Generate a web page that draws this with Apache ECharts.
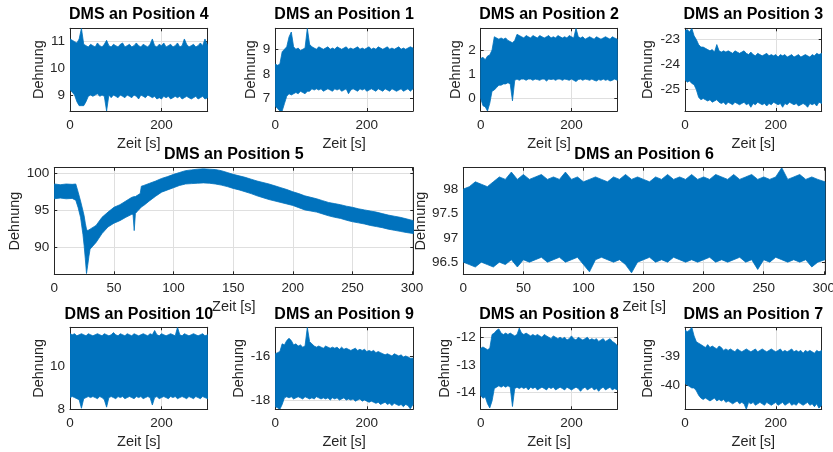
<!DOCTYPE html>
<html><head><meta charset="utf-8">
<script src="https://cdn.jsdelivr.net/npm/echarts@6/dist/echarts.min.js"></script>
<style>html,body{margin:0;padding:0;background:#fff}#c{width:833px;height:452px}</style>
</head><body><div id="c"></div>
<script>
// ---------- data (upper / lower envelope of each noisy signal) ----------
const T = [0,5,10,15,20,25,30,35,40,45,50,55,60,65,70,75,80,85,90,95,100,105,110,115,120,125,130,135,140,145,
  150,155,160,165,170,175,180,185,190,195,200,205,210,215,220,225,230,235,240,245,250,255,260,265,270,275,280,285,290,295,301];
const T5 = [0,5,10,15,18,20,22,24,25,26,27,28,29,30,35,40,45,50,55,60,65,66,67,68,70,72,73,75,
  80,85,90,95,100,105,110,115,120,125,130,135,140,145,150,155,160,165,170,175,180,185,190,195,200,205,210,215,220,225,
  230,235,240,245,250,255,260,265,270,275,280,285,290,295,301];

const hi4 = [11.1,11.05,11.0,10.95,11.1,11.5,10.9,10.85,10.8,10.9,10.85,10.8,10.95,10.85,10.8,10.9,11.05,10.85,10.8,10.9,
  10.85,10.8,10.9,10.95,10.8,10.85,10.9,10.8,10.85,10.95,10.85,10.8,10.9,10.85,10.8,10.9,11.1,10.85,10.8,10.9,
  10.85,10.95,10.8,10.85,10.9,10.8,10.85,10.95,10.8,10.85,11.1,10.9,10.8,10.85,10.9,10.8,10.85,10.95,10.85,11.1,10.85];
const lo4 = [9.2,9.1,9.0,8.75,8.6,8.6,8.6,8.75,8.95,9.0,8.95,9.0,9.05,8.95,9.0,8.95,8.4,9.0,8.9,9.0,
  8.95,8.9,9.0,8.95,8.9,9.0,8.95,8.9,9.0,8.95,8.85,9.0,8.95,8.9,9.0,8.95,8.9,8.95,8.85,8.9,
  8.85,8.95,8.9,8.95,8.85,8.9,8.95,8.9,8.95,8.85,8.9,8.95,8.9,8.85,8.9,8.95,8.85,8.9,8.95,8.85,8.9];

const hi1 = [8.4,8.35,8.4,8.9,9.0,9.1,9.5,9.7,9.1,9.0,9.05,8.95,9.0,9.05,9.85,9.2,9.1,9.05,9.0,9.1,
  9.05,9.0,9.05,9.1,9.0,9.05,9.0,9.1,9.05,9.0,9.05,9.1,9.0,9.05,9.0,9.05,9.1,9.0,9.05,9.0,
  9.05,9.1,9.0,9.05,9.0,9.1,9.05,9.0,9.05,9.1,9.0,9.05,9.0,9.05,9.1,9.0,9.05,9.0,9.05,9.1,9.05];
const lo1 = [6.7,6.6,6.5,6.5,6.8,7.1,7.2,7.15,7.2,7.25,7.2,7.3,7.25,7.2,7.3,7.3,7.4,7.35,7.4,7.35,
  7.4,7.3,7.35,7.4,7.35,7.3,7.4,7.35,7.4,7.3,7.35,7.4,7.2,7.35,7.4,7.35,7.3,7.4,7.35,7.4,
  7.3,7.35,7.4,7.35,7.3,7.4,7.35,7.3,7.4,7.35,7.3,7.4,7.35,7.3,7.35,7.4,7.3,7.35,7.4,7.3,7.4];

const hi2 = [1.65,1.7,1.6,1.75,1.8,2.0,2.55,2.5,2.45,2.5,2.45,2.5,2.4,2.35,2.3,2.4,2.65,2.6,2.55,2.5,
  2.6,2.55,2.5,2.6,2.55,2.5,2.6,2.55,2.5,2.55,2.6,2.5,2.55,2.5,2.6,2.55,2.5,2.55,2.5,2.6,
  2.55,2.5,2.9,2.55,2.5,2.55,2.45,2.5,2.55,2.5,2.45,2.55,2.5,2.45,2.5,2.55,2.5,2.45,2.55,2.5,2.45];
const lo2 = [0.0,-0.3,-0.35,-0.52,-0.2,0.3,0.35,0.45,0.55,0.55,0.6,0.6,0.65,0.6,-0.1,0.75,0.8,0.75,0.8,0.8,
  0.75,0.8,0.8,0.75,0.8,0.78,0.75,0.8,0.8,0.72,0.8,0.78,0.8,0.75,0.8,0.8,0.75,0.8,0.78,0.75,
  0.8,0.75,0.7,0.78,0.8,0.75,0.8,0.78,0.75,0.8,0.75,0.72,0.78,0.75,0.8,0.75,0.78,0.72,0.75,0.8,0.75];

const hi3 = [-22.65,-22.6,-22.7,-22.55,-22.85,-23.0,-23.2,-23.3,-23.3,-23.35,-23.4,-23.45,-23.4,-23.5,-23.2,-23.45,-23.5,-23.45,-23.5,-23.45,
  -23.5,-23.55,-23.45,-23.5,-23.55,-23.5,-23.45,-23.55,-23.6,-23.5,-23.6,-23.65,-23.55,-23.6,-23.65,-23.6,-23.55,-23.65,-23.6,-23.65,
  -23.6,-23.7,-23.6,-23.65,-23.6,-23.7,-23.65,-23.6,-23.7,-23.65,-23.6,-23.7,-23.65,-23.6,-23.65,-23.7,-23.6,-23.65,-23.55,-23.6,-23.55];
const lo3 = [-24.6,-24.7,-24.65,-24.75,-24.8,-25.0,-25.3,-25.4,-25.35,-25.4,-25.45,-25.4,-25.5,-25.45,-25.4,-25.5,-25.55,-25.5,-25.6,-25.5,
  -25.55,-25.6,-25.5,-25.55,-25.6,-25.55,-25.5,-25.6,-25.55,-25.7,-25.55,-25.6,-25.5,-25.55,-25.6,-25.55,-25.65,-25.55,-25.6,-25.5,
  -25.55,-25.6,-25.55,-25.7,-25.55,-25.6,-25.5,-25.55,-25.6,-25.55,-25.65,-25.6,-25.55,-25.6,-25.7,-25.55,-25.6,-25.55,-25.65,-25.5,-25.55];

const hi5 = [98.6,98.5,98.6,98.55,98.6,97.5,96.3,95.0,94.3,93.3,92.5,92.3,92.4,92.5,
  93.0,94.1,94.8,95.45,95.8,96.3,96.8,96.85,96.9,96.9,97.1,97.3,98.3,98.4,
  98.7,99.0,99.35,99.6,99.9,100.15,100.4,100.5,100.6,100.65,100.6,100.55,100.4,100.15,99.9,99.7,99.5,99.25,99.0,98.8,
  98.6,98.35,98.1,97.85,97.55,97.3,97.0,96.8,96.6,96.35,96.1,95.95,95.8,95.6,95.45,95.25,95.1,94.95,94.8,94.6,
  94.4,94.25,94.1,93.9,93.65];
const lo5 = [96.6,96.7,96.6,96.65,96.4,95.4,94.1,91.8,90.3,88.5,86.5,87.6,88.8,89.8,
  90.7,91.9,92.8,93.3,93.65,94.1,94.5,94.5,92.3,94.6,95.0,95.3,95.5,95.7,
  96.35,96.95,97.5,97.8,98.1,98.4,98.6,98.65,98.7,98.75,98.7,98.6,98.45,98.25,98.0,97.8,97.55,97.3,97.0,96.75,
  96.5,96.3,96.1,95.9,95.7,95.4,95.1,94.95,94.8,94.55,94.3,94.1,93.95,93.7,93.5,93.35,93.2,93.0,92.85,92.7,
  92.5,92.35,92.2,92.05,91.9];

const hi6 = [98.0,98.05,98.15,98.1,98.05,98.15,98.25,98.2,98.35,98.2,98.3,98.2,98.25,98.3,98.2,98.25,98.2,98.35,98.2,98.25,
  98.15,98.2,98.25,98.2,98.15,98.25,98.2,98.3,98.2,98.25,98.2,98.15,98.25,98.2,98.3,98.2,98.25,98.2,98.3,98.2,
  98.25,98.2,98.3,98.25,98.2,98.3,98.2,98.25,98.3,98.2,98.25,98.2,98.25,98.44,98.2,98.25,98.3,98.2,98.25,98.2,98.15];
const lo6 = [96.5,96.45,96.4,96.5,96.45,96.4,96.5,96.45,96.55,96.4,96.55,96.5,96.55,96.6,96.5,96.55,96.6,96.5,96.55,96.6,
  96.45,96.3,96.55,96.6,96.55,96.5,96.55,96.45,96.28,96.5,96.55,96.6,96.5,96.55,96.5,96.6,96.55,96.5,96.55,96.5,
  96.55,96.6,96.5,96.55,96.5,96.55,96.6,96.5,96.55,96.35,96.55,96.5,96.6,96.55,96.5,96.55,96.5,96.55,96.4,96.5,96.55];

const hi10 = [11.55,11.5,11.55,11.45,11.5,11.55,11.5,11.45,11.55,11.5,11.45,11.5,11.55,11.5,11.45,11.55,11.5,11.45,11.5,11.6,
  11.5,11.45,11.55,11.5,11.45,11.55,11.5,11.45,11.55,11.5,11.45,11.5,11.55,11.5,11.45,11.55,11.5,11.7,11.5,11.45,
  11.55,11.5,11.45,11.5,11.55,11.5,11.45,11.85,11.5,11.45,11.55,11.5,11.45,11.5,11.55,11.5,11.45,11.5,11.55,11.45,11.5];
const lo10 = [8.55,8.6,8.55,8.5,8.45,8.05,8.5,8.55,8.6,8.55,8.6,8.55,8.5,8.6,8.55,8.45,8.1,8.55,8.6,8.55,
  8.5,8.6,8.55,8.6,8.5,8.55,8.6,8.55,8.5,8.6,8.55,8.6,8.5,8.55,8.6,8.55,8.2,8.55,8.6,8.5,
  8.55,8.6,8.55,8.5,8.6,8.55,8.6,8.5,8.55,8.6,8.55,8.5,8.6,8.55,8.5,8.6,8.55,8.5,8.6,8.55,8.5];

const hi9 = [-15.9,-15.85,-15.8,-15.45,-15.5,-15.3,-15.2,-15.3,-15.5,-15.45,-15.55,-15.5,-15.6,-15.55,-14.7,-15.35,-15.45,-15.55,-15.6,-15.55,
  -15.6,-15.65,-15.55,-15.6,-15.65,-15.6,-15.65,-15.6,-15.7,-15.6,-15.7,-15.65,-15.7,-15.75,-15.7,-15.65,-15.75,-15.7,-15.75,-15.7,
  -15.8,-15.75,-15.8,-15.75,-15.85,-15.8,-15.85,-15.9,-15.95,-15.9,-15.95,-16.0,-15.9,-15.95,-16.0,-15.95,-16.05,-16.0,-16.05,-16.1,-16.1];
const lo9 = [-18.3,-18.35,-18.42,-18.2,-17.9,-17.85,-17.9,-17.85,-17.95,-17.9,-17.85,-17.9,-17.95,-17.85,-17.9,-17.95,-17.9,-17.95,-17.85,-17.9,
  -17.95,-17.9,-17.95,-17.9,-18.0,-17.9,-17.95,-17.9,-18.0,-17.95,-17.9,-18.0,-17.95,-18.0,-17.95,-18.05,-18.0,-17.95,-18.05,-18.0,
  -18.05,-18.1,-18.05,-18.1,-18.15,-18.1,-18.2,-18.15,-18.1,-18.2,-18.15,-18.25,-18.15,-18.2,-18.25,-18.2,-18.3,-18.2,-18.25,-18.4,-18.2];

const hi8 = [-12.4,-12.35,-12.4,-12.45,-12.4,-11.9,-11.85,-11.75,-11.7,-11.85,-11.9,-11.85,-11.9,-11.85,-11.9,-11.95,-11.9,-11.67,-11.85,-11.9,
  -11.85,-11.9,-11.95,-11.9,-11.95,-11.9,-11.95,-12.0,-11.9,-11.95,-12.0,-12.05,-11.95,-12.0,-12.05,-12.0,-12.05,-12.0,-12.1,-12.05,
  -11.95,-12.05,-12.1,-12.0,-12.05,-12.1,-12.05,-12.0,-12.1,-12.05,-12.1,-12.05,-12.15,-12.1,-12.05,-12.15,-12.1,-12.05,-12.15,-12.2,-12.3];
const lo8 = [-14.1,-14.2,-14.15,-14.4,-14.55,-14.3,-13.85,-13.8,-13.75,-13.8,-13.75,-13.8,-13.75,-13.8,-14.5,-13.85,-13.8,-13.85,-13.8,-13.85,
  -13.8,-13.9,-13.8,-13.85,-13.8,-13.9,-13.85,-13.8,-13.85,-13.9,-13.8,-13.85,-13.8,-13.9,-13.85,-13.8,-13.85,-13.9,-13.8,-13.85,
  -13.9,-13.85,-13.8,-13.85,-13.95,-13.85,-13.8,-13.9,-13.85,-13.8,-13.9,-13.85,-13.95,-13.85,-13.8,-13.9,-13.85,-13.8,-13.9,-13.85,-13.9];

const hi7 = [-38.1,-38.15,-38.1,-38.0,-38.3,-38.5,-38.55,-38.6,-38.65,-38.7,-38.6,-38.7,-38.65,-38.7,-38.75,-38.65,-38.7,-38.8,-38.75,-38.8,
  -38.75,-38.8,-38.85,-38.75,-38.8,-38.85,-38.8,-38.75,-38.8,-38.85,-38.8,-38.75,-38.85,-38.8,-38.75,-38.8,-38.85,-38.8,-38.75,-38.8,
  -38.85,-38.8,-38.75,-38.85,-38.8,-38.85,-38.8,-38.75,-38.85,-38.8,-38.85,-38.8,-38.9,-38.8,-38.85,-38.8,-38.85,-38.9,-38.8,-38.85,-38.8];
const lo7 = [-39.95,-40.0,-40.05,-40.1,-40.1,-40.2,-40.35,-40.45,-40.5,-40.45,-40.5,-40.55,-40.5,-40.45,-40.55,-40.5,-40.55,-40.5,-40.6,-40.55,
  -40.6,-40.65,-40.6,-40.55,-40.65,-40.6,-40.65,-40.84,-40.6,-40.65,-40.6,-40.7,-40.65,-40.6,-40.65,-40.7,-40.6,-40.65,-40.7,-40.65,
  -40.6,-40.7,-40.65,-40.6,-40.7,-40.65,-40.6,-40.7,-40.65,-40.7,-40.6,-40.65,-40.7,-40.65,-40.6,-40.7,-40.65,-40.75,-40.65,-40.8,-40.7];

// tick labels
const xTicksSmall = [0,200];
const xTicksBig = [0,50,100,150,200,250,300];
const yt4 = [9,10,11], yt1 = [7,8,9], yt2 = [0,1,2], yt3 = [-25,-24,-23];
const yt5 = [90,95,100], yt6 = [96.5,97,97.5,98];
const yt10 = [8,10], yt9 = [-18,-16], yt8 = [-14,-13,-12], yt7 = [-40,-39];
const yRanges = {p4:[8.4,11.5], p1:[6.5,9.85], p2:[-0.52,2.9], p3:[-25.85,-22.55], p5:[86.4,100.8], p6:[96.25,98.44],
  p10:[8,11.85], p9:[-18.42,-14.7], p8:[-14.6,-11.64], p7:[-40.84,-38.0]};
const X_MAX = 301;

// ---------- panel definitions (data refs) ----------
const panels = [
  {title:'DMS an Position 4',  t:T,  hi:hi4,  lo:lo4,  yr:yRanges.p4,  yt:yt4,  xt:xTicksSmall},
  {title:'DMS an Position 1',  t:T,  hi:hi1,  lo:lo1,  yr:yRanges.p1,  yt:yt1,  xt:xTicksSmall},
  {title:'DMS an Position 2',  t:T,  hi:hi2,  lo:lo2,  yr:yRanges.p2,  yt:yt2,  xt:xTicksSmall},
  {title:'DMS an Position 3',  t:T,  hi:hi3,  lo:lo3,  yr:yRanges.p3,  yt:yt3,  xt:xTicksSmall},
  {title:'DMS an Position 5',  t:T5, hi:hi5,  lo:lo5,  yr:yRanges.p5,  yt:yt5,  xt:xTicksBig},
  {title:'DMS an Position 6',  t:T,  hi:hi6,  lo:lo6,  yr:yRanges.p6,  yt:yt6,  xt:xTicksBig},
  {title:'DMS an Position 10', t:T,  hi:hi10, lo:lo10, yr:yRanges.p10, yt:yt10, xt:xTicksSmall},
  {title:'DMS an Position 9',  t:T,  hi:hi9,  lo:lo9,  yr:yRanges.p9,  yt:yt9,  xt:xTicksSmall},
  {title:'DMS an Position 8',  t:T,  hi:hi8,  lo:lo8,  yr:yRanges.p8,  yt:yt8,  xt:xTicksSmall},
  {title:'DMS an Position 7',  t:T,  hi:hi7,  lo:lo7,  yr:yRanges.p7,  yt:yt7,  xt:xTicksSmall}
];

// ---------- layout (positions in px) ----------
const layout = [
  {l:70,    t:28.3,  w:137.7, h:82.7, yGap:23,   ty:15},
  {l:275.3, t:28.3,  w:137.7, h:82.7, yGap:16.5, ty:15},
  {l:480.7, t:28.3,  w:136.6, h:82.7, yGap:17,   ty:15},
  {l:685,   t:28.3,  w:136.7, h:82.7, yGap:30,   ty:15},
  {l:54.3,  t:167.7, w:359,   h:106.6, yGap:32,  ty:154.5},
  {l:463.3, t:167.7, w:361.7, h:106.6, yGap:34.5,ty:154.5},
  {l:70,    t:327.3, w:137.7, h:82,   yGap:23,   ty:315},
  {l:275.3, t:327.3, w:137.7, h:82,   yGap:28,   ty:315},
  {l:480.7, t:327.3, w:136.6, h:82,   yGap:28.5, ty:315},
  {l:685,   t:327.3, w:136.7, h:82,   yGap:29.5, ty:315}
];

const FONT = "'Liberation Sans', Arial, Helvetica, sans-serif";
const AX = '#262626';
const GRIDC = '#dfdfdf';
const BLUE = '#0072BD';

// band between lower and upper envelope: one polygon per panel, every vertex through the axis scales
function bandItem(params, api) {
  if (params.dataIndexInside !== 0) return null;
  const n = params.dataInsideLength;
  const top = [], bottom = [];
  for (let k = 0; k < n; k++) {
    const x = api.value(0, k);
    top.push(api.coord([x, api.value(2, k)]));
    bottom.push(api.coord([x, api.value(1, k)]));
  }
  const pts = top.concat(bottom.reverse());
  return {type:'polygon', shape:{points:pts}, style:{fill:BLUE, stroke:BLUE, lineWidth:0.8, lineJoin:'miter'}};
}

const grids = [], xAxes = [], yAxes = [], series = [], graphics = [];
panels.forEach((p, i) => {
  const L = layout[i];
  grids.push({left:L.l, top:L.t, width:L.w, height:L.h, containLabel:false, outerBoundsMode:'none'});
  const lineStyle = {color:AX, width:1};
  xAxes.push({
    type:'value', gridIndex:i, min:0, max:X_MAX, position:'bottom',
    axisLine:{show:true, onZero:false, lineStyle},
    axisTick:{show:true, inside:true, length:3, customValues:p.xt, lineStyle},
    axisLabel:{show:true, customValues:p.xt, color:AX, fontSize:13.5, fontFamily:FONT, margin:7},
    splitLine:{show:true, lineStyle:{color:GRIDC, width:1}},
    name:'Zeit [s]', nameLocation:'middle', nameGap:25,
    nameTextStyle:{color:AX, fontSize:14.5, fontFamily:FONT}
  });
  xAxes.push({
    type:'value', gridIndex:i, min:0, max:X_MAX, position:'top',
    axisLine:{show:true, onZero:false, lineStyle},
    axisTick:{show:true, inside:true, length:3, customValues:p.xt, lineStyle},
    axisLabel:{show:false}, splitLine:{show:false}
  });
  yAxes.push({
    type:'value', gridIndex:i, min:p.yr[0], max:p.yr[1], position:'left',
    axisLine:{show:true, onZero:false, lineStyle},
    axisTick:{show:true, inside:true, length:3, customValues:p.yt, lineStyle},
    axisLabel:{show:true, customValues:p.yt, color:AX, fontSize:13.5, fontFamily:FONT, margin:5},
    splitLine:{show:true, lineStyle:{color:GRIDC, width:1}},
    name:'Dehnung', nameLocation:'middle', nameGap:L.yGap,
    nameTextStyle:{color:AX, fontSize:14.5, fontFamily:FONT}
  });
  yAxes.push({
    type:'value', gridIndex:i, min:p.yr[0], max:p.yr[1], position:'right',
    axisLine:{show:true, onZero:false, lineStyle},
    axisTick:{show:true, inside:true, length:3, customValues:p.yt, lineStyle},
    axisLabel:{show:false}, splitLine:{show:false}
  });
  series.push({
    type:'custom', xAxisIndex:2*i, yAxisIndex:2*i, clip:true, silent:true,
    renderItem:bandItem, encode:{x:0, y:[1,2]},
    data:p.t.map((x, k) => [x, p.lo[k], p.hi[k]])
  });
  graphics.push({
    type:'text', x:L.l + L.w / 2, y:L.ty,
    style:{text:p.title, fill:'#000', font:'bold 16px ' + FONT, textAlign:'center', textVerticalAlign:'middle'}
  });
});

const chart = echarts.init(document.getElementById('c'), null, {renderer:'canvas'});
chart.setOption({
  animation:false,
  backgroundColor:'#fff',
  grid:grids, xAxis:xAxes, yAxis:yAxes, series:series,
  graphic:graphics
});
</script>
</body></html>
